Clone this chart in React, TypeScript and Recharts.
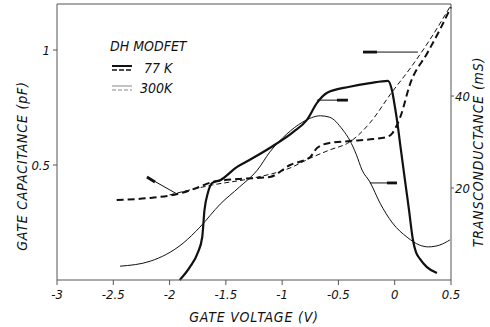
import React from "react";
import {
  LineChart,
  Line,
  XAxis,
  YAxis,
  ReferenceLine,
  Label,
} from "recharts";

// gate voltage ticks (V)
const voltageTicks = [-3, -2.5, -2, -1.5, -1, -0.5, 0, 0.5];
const capTicks = [0.5, 1];
const gmTicks = [20, 40];

// 77 K gate capacitance (pF)
const cap77V = [-2.47, -2.17, -1.93, -1.76, -1.62, -1.4, -1.11, -0.93, -0.75, -0.69, -0.58, -0.4, -0.19, -0.07, -0.02, 0.02, 0.05, 0.14, 0.29, 0.4, 0.5];
const cap77 = [0.348, 0.357, 0.374, 0.4, 0.426, 0.439, 0.448, 0.5, 0.535, 0.574, 0.596, 0.604, 0.613, 0.622, 0.639, 0.674, 0.709, 0.857, 0.987, 1.087, 1.187];

// 300 K gate capacitance (pF)
const cap300V = [-2.0, -1.62, -1.26, -0.93, -0.75, -0.58, -0.4, -0.22, -0.03, 0.14, 0.31, 0.49];
const cap300 = [0.37, 0.413, 0.443, 0.487, 0.53, 0.565, 0.6, 0.683, 0.813, 0.922, 1.043, 1.187];

// 77 K transconductance (mS)
const gm77V = [-1.91, -1.82, -1.75, -1.71, -1.69, -1.66, -1.62, -1.55, -1.4, -1.29, -1.11, -0.9, -0.78, -0.69, -0.6, -0.4, -0.22, -0.06, -0.025, 0.002, 0.02, 0.055, 0.091, 0.126, 0.162, 0.188, 0.224, 0.286, 0.375];
const gm77 = [0, 2.8, 5.9, 9.3, 15.2, 18.9, 21.1, 21.7, 24.6, 26.1, 28.7, 32.2, 34.8, 38.5, 40.7, 42.0, 42.8, 43.3, 41.3, 37.6, 34.8, 28.3, 21.7, 15.4, 8.7, 6.1, 4.6, 2.8, 1.5];

// 300 K transconductance (mS)
const gm300V = [-2.44, -2.17, -1.88, -1.73, -1.55, -1.38, -1.22, -1.11, -0.96, -0.82, -0.66, -0.58, -0.46, -0.4, -0.34, -0.29, -0.22, -0.13, -0.02, 0.11, 0.22, 0.3, 0.4, 0.49];
const gm300 = [3.0, 4.1, 8.0, 11.5, 16.5, 20.2, 23.9, 27.8, 31.7, 34.3, 35.7, 35.4, 32.6, 30.4, 27.2, 23.9, 21.3, 16.7, 12.4, 9.3, 7.6, 7.2, 7.6, 8.7];

// annotation arrows: [fromV, fromY, toV, toY, headStartV, headStartY, axis]
const arrows: [number, number, number, number, number, number, string][] = [
  [0.206, 0.991, -0.282, 0.991, -0.158, 0.991, "cap"],
  [-0.691, 39.1, -0.416, 39.1, -0.513, 39.1, "gm"],
  [-0.22, 21.1, 0.02, 21.1, -0.069, 21.1, "gm"],
  [-1.934, 0.374, -2.201, 0.448, -2.13, 0.426, "cap"],
];

const zip = (xs: number[], ys: number[]) => xs.map((v, i) => ({ v, y: ys[i] }));

const FONT = "'DejaVu Sans Condensed', 'Liberation Sans Narrow', 'DejaVu Sans', sans-serif";
const INK = "#111";
const tickStyle = { fontSize: 13, fill: INK, fontStyle: "italic", fontFamily: FONT };
const labelStyle = { fontSize: 14, fill: INK, fontStyle: "italic", fontFamily: FONT, letterSpacing: 0.8 };

export default function App() {
  return (
    <div style={{ position: "absolute", left: 0, top: 0, width: 490, height: 327, background: "#fff" }}>
      <LineChart width={490} height={327} margin={{ top: 4, right: 0, bottom: 0, left: 0 }}>
        <XAxis
          dataKey="v"
          type="number"
          domain={[-3, 0.5]}
          ticks={voltageTicks}
          allowDuplicatedCategory={false}
          height={47}
          tick={tickStyle}
          tickSize={5}
          tickMargin={5}
          stroke="#555"
        >
          <Label value="GATE VOLTAGE (V)" position="center" dy={14} style={labelStyle} />
        </XAxis>
        <YAxis
          yAxisId="cap"
          type="number"
          domain={[0, 1.2]}
          ticks={capTicks}
          width={57}
          tick={tickStyle}
          tickSize={4}
          tickMargin={3}
          stroke="#555"
        >
          <Label value="GATE CAPACITANCE (pF)" angle={-90} position="center" dx={-6} dy={24} style={labelStyle} />
        </YAxis>
        <YAxis
          yAxisId="gm"
          orientation="right"
          type="number"
          domain={[0, 60]}
          ticks={gmTicks}
          width={39}
          tick={tickStyle}
          tickSize={3}
          tickMargin={1}
          stroke="#555"
        >
          <Label value="TRANSCONDUCTANCE (mS)" angle={-90} position="center" dx={8} dy={10} style={labelStyle} />
        </YAxis>
        <ReferenceLine yAxisId="cap" y={1.2} stroke="#555" strokeWidth={1} />

        <Line
          yAxisId="cap"
          data={zip(cap300V, cap300)}
          dataKey="y"
          type="monotone"
          stroke={INK}
          strokeWidth={1}
          strokeDasharray="5 3"
          dot={false}
          isAnimationActive={false}
        />
        <Line
          yAxisId="cap"
          data={zip(cap77V, cap77)}
          dataKey="y"
          type="monotone"
          stroke={INK}
          strokeWidth={2}
          strokeDasharray="7 4"
          dot={false}
          isAnimationActive={false}
        />
        <Line
          yAxisId="gm"
          data={zip(gm300V, gm300)}
          dataKey="y"
          type="monotone"
          stroke={INK}
          strokeWidth={1}
          dot={false}
          isAnimationActive={false}
        />
        <Line
          yAxisId="gm"
          data={zip(gm77V, gm77)}
          dataKey="y"
          type="monotone"
          stroke={INK}
          strokeWidth={2.2}
          dot={false}
          isAnimationActive={false}
        />

        {arrows.map(([x1, y1, x2, y2, hx, hy, axis], i) => (
          <ReferenceLine
            key={"s" + i}
            yAxisId={axis}
            segment={[{ x: x1, y: y1 }, { x: x2, y: y2 }]}
            stroke={INK}
            strokeWidth={1}
          />
        ))}
        {arrows.map(([, , x2, y2, hx, hy, axis], i) => (
          <ReferenceLine
            key={"h" + i}
            yAxisId={axis}
            segment={[{ x: hx, y: hy }, { x: x2, y: y2 }]}
            stroke={INK}
            strokeWidth={2.8}
          />
        ))}
      </LineChart>

      <div
        style={{
          position: "absolute",
          left: 110,
          top: 36,
          fontFamily: FONT,
          fontStyle: "italic",
          fontSize: 14,
          color: INK,
          lineHeight: "20px",
        }}
      >
        <div>DH MODFET</div>
        <div style={{ display: "flex", alignItems: "center", marginTop: 2 }}>
          <svg width={26} height={12}>
            <line x1={2} y1={4} x2={22} y2={4} stroke={INK} strokeWidth={2} />
            <line x1={2} y1={8} x2={22} y2={8} stroke={INK} strokeWidth={1.5} strokeDasharray="5 2" />
          </svg>
          <span style={{ marginLeft: 8 }}>77 K</span>
        </div>
        <div style={{ display: "flex", alignItems: "center" }}>
          <svg width={26} height={12}>
            <line x1={2} y1={4} x2={22} y2={4} stroke="#888" strokeWidth={1} />
            <line x1={2} y1={8} x2={22} y2={8} stroke="#888" strokeWidth={1} strokeDasharray="4 2" />
          </svg>
          <span style={{ marginLeft: 4 }}>300K</span>
        </div>
      </div>
    </div>
  );
}
